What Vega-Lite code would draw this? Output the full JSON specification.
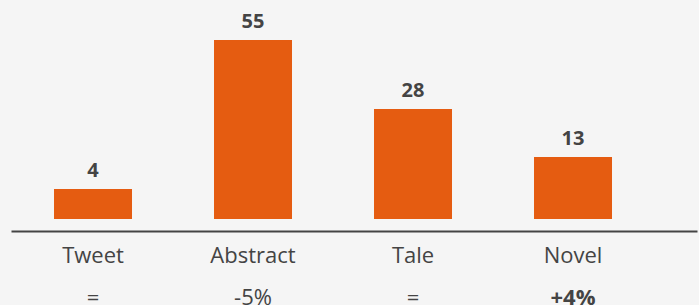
{
  "$schema": "https://vega.github.io/schema/vega-lite/v6.json",
  "width": 686,
  "height": 231,
  "autosize": {"type": "none"},
  "padding": {"left": 11, "top": 0, "right": 2, "bottom": 74},
  "background": "#f5f5f5",
  "config": {
    "view": {"stroke": null},
    "font": "Open Sans",
    "text": {"font": "Open Sans", "color": "#444444"}
  },
  "data": {
    "values": [
      {"name": "Tweet", "value": 4, "height": 30, "change": "="},
      {"name": "Abstract", "value": 55, "height": 179, "change": "-5%"},
      {"name": "Tale", "value": 28, "height": 110, "change": "="},
      {"name": "Novel", "value": 13, "height": 62, "change": "+4%"}
    ]
  },
  "encoding": {
    "x": {
      "field": "name",
      "type": "nominal",
      "sort": null,
      "scale": {"paddingInner": 0.5125, "paddingOuter": 0.4, "align": 0.336},
      "axis": {
        "title": null,
        "labelAngle": 0,
        "ticks": false,
        "tickSize": 0,
        "domain": true,
        "domainColor": "#444444",
        "domainWidth": 2,
        "labelFont": "Open Sans",
        "labelFontSize": 22,
        "labelColor": "#444444",
        "labelPadding": 14,
        "grid": false
      }
    }
  },
  "layer": [
    {
      "mark": {"type": "bar", "color": "#e55c11"},
      "encoding": {
        "y": {
          "field": "height",
          "type": "quantitative",
          "scale": {"domain": [-12, 219], "zero": false, "nice": false},
          "axis": null
        }
      }
    },
    {
      "mark": {"type": "text", "fontSize": 20, "fontWeight": "bold", "baseline": "alphabetic", "dy": -12},
      "encoding": {
        "y": {"field": "height", "type": "quantitative"},
        "text": {"field": "value", "type": "quantitative"}
      }
    },
    {
      "transform": [{"filter": "indexof(datum.change, '+') != 0"}],
      "mark": {"type": "text", "fontSize": 22, "baseline": "alphabetic"},
      "encoding": {
        "y": {"datum": -86, "type": "quantitative"},
        "text": {"field": "change", "type": "nominal"}
      }
    },
    {
      "transform": [{"filter": "indexof(datum.change, '+') == 0"}],
      "mark": {"type": "text", "fontSize": 22, "fontWeight": "bold", "baseline": "alphabetic"},
      "encoding": {
        "y": {"datum": -86, "type": "quantitative"},
        "text": {"field": "change", "type": "nominal"}
      }
    }
  ]
}
